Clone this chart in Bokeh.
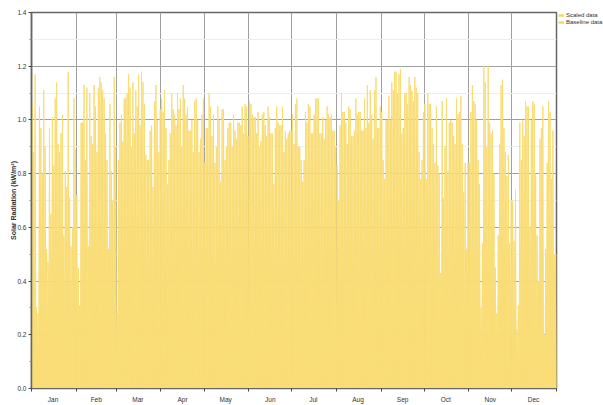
from bokeh.plotting import figure
from bokeh.layouts import row
from bokeh.models import FixedTicker, Legend, LegendItem, Range1d, PrintfTickFormatter
from bokeh.embed import file_html
from bokeh.resources import INLINE

months = ["Jan", "Feb", "Mar", "Apr", "May", "Jun", "Jul", "Aug", "Sep", "Oct", "Nov", "Dec"]
days_in_month = [31, 28, 31, 30, 31, 30, 31, 31, 30, 31, 30, 31]

# daily peak solar radiation (kW/m2)
peaks_jan = [1.06, 0.88, 1.17, 0.30, 0.28, 1.05, 0.97, 0.80, 1.11, 0.90, 0.52, 0.47, 0.97, 0.65, 1.01, 0.83,
             1.08, 1.14, 0.91, 0.88, 0.95, 1.02, 0.57, 0.81, 0.75, 1.18, 0.71, 0.53, 0.60, 1.08, 0.89]
peaks_feb = [0.72, 0.45, 0.31, 0.99, 0.99, 1.13, 0.85, 1.12, 0.53, 1.10, 0.94, 0.91, 1.13, 1.05, 0.88, 1.12,
             1.16, 1.14, 1.11, 1.08, 0.95, 0.85, 0.52, 1.06, 0.81, 0.70, 1.16, 0.90]
peaks_mar = [0.28, 0.85, 0.99, 1.02, 0.92, 1.08, 1.08, 1.10, 1.17, 1.12, 0.90, 1.14, 0.95, 1.11, 1.05, 1.17,
             0.98, 1.18, 1.14, 1.06, 0.87, 0.85, 0.85, 0.96, 0.98, 0.75, 1.07, 1.13, 1.00, 0.88, 1.04]
peaks_apr = [1.08, 1.03, 1.11, 0.97, 0.76, 0.85, 0.95, 1.10, 1.04, 1.02, 0.98, 1.10, 1.04, 1.08, 0.90, 1.13,
             1.08, 1.02, 1.05, 0.96, 0.96, 1.00, 0.88, 1.07, 1.08, 1.00, 0.88, 0.93, 1.02, 1.08]
peaks_may = [0.84, 0.97, 0.97, 1.10, 1.05, 0.94, 1.02, 0.84, 0.90, 1.05, 1.00, 0.77, 1.04, 1.04, 0.85, 0.90,
             0.97, 0.99, 0.99, 0.90, 1.02, 0.96, 0.93, 0.99, 0.99, 0.98, 1.05, 0.95, 1.06, 1.05, 0.94]
peaks_jun = [1.07, 1.06, 1.02, 1.01, 1.01, 0.95, 1.03, 0.90, 0.92, 1.02, 1.03, 0.98, 0.94, 1.05, 1.01, 0.95,
             0.95, 0.76, 0.97, 1.05, 0.99, 0.98, 0.98, 1.05, 0.88, 0.96, 0.93, 0.95, 0.96, 0.96]
peaks_jul = [1.02, 0.91, 1.06, 1.08, 0.90, 0.90, 0.85, 0.77, 0.85, 1.03, 0.99, 1.06, 1.05, 0.95, 0.95, 1.02,
             1.08, 1.08, 1.08, 0.95, 0.95, 1.01, 0.93, 1.00, 1.05, 1.02, 1.01, 1.02, 0.96, 0.96, 0.90]
peaks_aug = [0.83, 0.70, 0.98, 1.10, 1.03, 1.03, 0.99, 0.91, 1.05, 1.04, 0.94, 0.94, 0.96, 1.08, 1.02, 1.03,
             1.03, 0.96, 0.96, 1.08, 0.97, 1.13, 0.99, 1.11, 1.02, 0.93, 1.11, 1.16, 0.97, 0.97, 1.05]
peaks_sep = [1.03, 0.85, 0.78, 1.00, 1.00, 1.09, 1.00, 1.14, 1.11, 1.18, 1.18, 1.10, 1.17, 1.19, 0.95, 0.97,
             1.10, 1.10, 1.06, 1.16, 1.13, 1.11, 1.07, 1.16, 1.12, 1.10, 0.88, 0.78, 0.85, 1.03]
peaks_oct = [1.06, 0.78, 1.10, 1.06, 1.06, 0.97, 0.91, 0.84, 1.05, 0.83, 0.80, 0.43, 1.07, 0.71, 0.90, 1.08,
             0.81, 0.99, 1.00, 0.99, 0.94, 0.91, 1.08, 1.02, 1.03, 1.09, 0.91, 0.73, 0.84, 0.52, 0.84]
peaks_nov = [0.84, 1.03, 1.13, 1.07, 1.06, 1.00, 0.85, 0.76, 0.30, 0.54, 1.20, 1.14, 0.90, 1.20, 0.99, 0.95,
             0.96, 0.80, 0.45, 0.28, 0.57, 0.91, 1.13, 1.15, 0.97, 0.88, 0.79, 0.87, 0.54, 0.70]
peaks_dec = [0.70, 0.55, 0.74, 0.22, 0.31, 0.99, 0.85, 1.00, 0.94, 1.07, 1.05, 1.05, 0.60, 1.00, 1.07, 1.06,
             0.80, 0.57, 0.40, 0.93, 0.97, 1.05, 0.20, 0.52, 0.84, 1.07, 1.03, 0.78, 0.96, 0.50, 0.50]

y_ticks = [0.0, 0.2, 0.4, 0.6, 0.8, 1.0, 1.2, 1.4]
y_minor_ticks = [0.1, 0.3, 0.5, 0.7, 0.9, 1.1, 1.3]

series_labels = ["Scaled data", "Baseline data"]

daily_peak = (peaks_jan + peaks_feb + peaks_mar + peaks_apr + peaks_may + peaks_jun +
              peaks_jul + peaks_aug + peaks_sep + peaks_oct + peaks_nov + peaks_dec)

# each day: zero at night, peak at midday
xs, ys = [], []
for d, pk in enumerate(daily_peak):
    xs += [d, d + 0.5]
    ys += [0.0, pk]
xs.append(len(daily_peak))
ys.append(0.0)

boundaries = [0]
for n in days_in_month:
    boundaries.append(boundaries[-1] + n)
mids = [boundaries[i] + days_in_month[i] // 2 for i in range(12)]

FILL = "#FBE285"
LINE = "#F9DC74"
LEG_LINE = "#F8D95F"
FONT = "Liberation Sans"

H = 405
LEFT, RIGHT, TOP, BOTTOM = 31, 2, 12, 13
W_MAIN = 558
W_LEG = 45

p = figure(width=W_MAIN, height=H, x_range=Range1d(0, boundaries[-1]), y_range=Range1d(0, 1.4),
           output_backend="svg", toolbar_location=None,
           min_border_left=LEFT, min_border_right=RIGHT, min_border_top=TOP, min_border_bottom=BOTTOM)
p.background_fill_color = "white"
p.border_fill_color = "white"
p.outline_line_color = "#666666"
p.outline_line_width = 1.5

p.varea(x=xs, y1=0, y2=ys, fill_color=FILL, fill_alpha=1.0)
p.line(xs, ys, line_color=LINE, line_width=1)

# x axis: labels mid-month, tick marks at month boundaries
p.xaxis.ticker = FixedTicker(ticks=mids, minor_ticks=boundaries)
p.xaxis.major_label_overrides = {m: name for m, name in zip(mids, months)}
p.xaxis.major_tick_line_color = None
p.xaxis.minor_tick_in = 0
p.xaxis.minor_tick_out = 3
p.xaxis.minor_tick_line_color = "#444444"
p.xaxis.axis_line_color = "#666666"
p.xaxis.major_label_text_font_size = "6.5px"
p.xaxis.major_label_text_font = FONT
p.xaxis.major_label_text_color = "#333333"
p.xaxis.major_label_standoff = 1

p.xgrid.ticker = FixedTicker(ticks=boundaries)
p.xgrid.grid_line_color = "#a0a0a0"
p.xgrid.grid_line_width = 1

p.yaxis.ticker = FixedTicker(ticks=y_ticks, minor_ticks=y_minor_ticks)
p.yaxis.formatter = PrintfTickFormatter(format="%.1f")
p.yaxis.major_tick_in = 0
p.yaxis.major_tick_out = 3
p.yaxis.minor_tick_in = 0
p.yaxis.minor_tick_out = 2
p.yaxis.major_tick_line_color = "#444444"
p.yaxis.minor_tick_line_color = "#888888"
p.yaxis.axis_line_color = "#666666"
p.yaxis.axis_line_width = 1.5
p.yaxis.major_label_text_font_size = "6.5px"
p.yaxis.major_label_text_font = FONT
p.yaxis.major_label_text_color = "#333333"
p.yaxis.major_label_standoff = 2
p.yaxis.axis_label = "Solar Radiation (kW/m\u00b2)"
p.yaxis.axis_label_text_font_size = "7px"
p.yaxis.axis_label_text_font = FONT
p.yaxis.axis_label_text_font_style = "bold"
p.yaxis.axis_label_text_color = "#333333"
p.yaxis.axis_label_standoff = -3

p.ygrid.grid_line_color = "#a0a0a0"
p.ygrid.grid_line_width = 1
p.ygrid.minor_grid_line_color = "#eeeeee"

# legend panel to the right of the plot; its ranges keep the series out of view,
# so only the legend entries are seen
lg = figure(width=W_LEG, height=H, x_range=Range1d(0, 1), y_range=Range1d(-2, -1),
            output_backend="svg", toolbar_location=None,
            x_axis_location=None, y_axis_location=None,
            min_border_left=0, min_border_right=0, min_border_top=11, min_border_bottom=0)
lg.outline_line_color = None
lg.grid.visible = False
lg.background_fill_color = "white"
lg.border_fill_color = "white"
r_scaled = lg.line(xs, ys, line_color=LEG_LINE, line_width=2.5)
r_base = lg.line(xs, ys, line_color=LEG_LINE, line_width=2.5)

legend = Legend(items=[LegendItem(label=series_labels[0], renderers=[r_scaled]),
                       LegendItem(label=series_labels[1], renderers=[r_base])],
                location="top_left")
legend.label_text_font_size = "6px"
legend.label_text_font = FONT
legend.label_text_color = "#333333"
legend.glyph_width = 6
legend.glyph_height = 6
legend.label_height = 6
legend.label_standoff = 2
legend.spacing = 1
legend.padding = 1
legend.margin = 0
legend.border_line_color = None
legend.background_fill_alpha = 0
lg.add_layout(legend)

layout = row(p, lg, spacing=0)

open("out.html", "w").write(file_html(layout, INLINE))
